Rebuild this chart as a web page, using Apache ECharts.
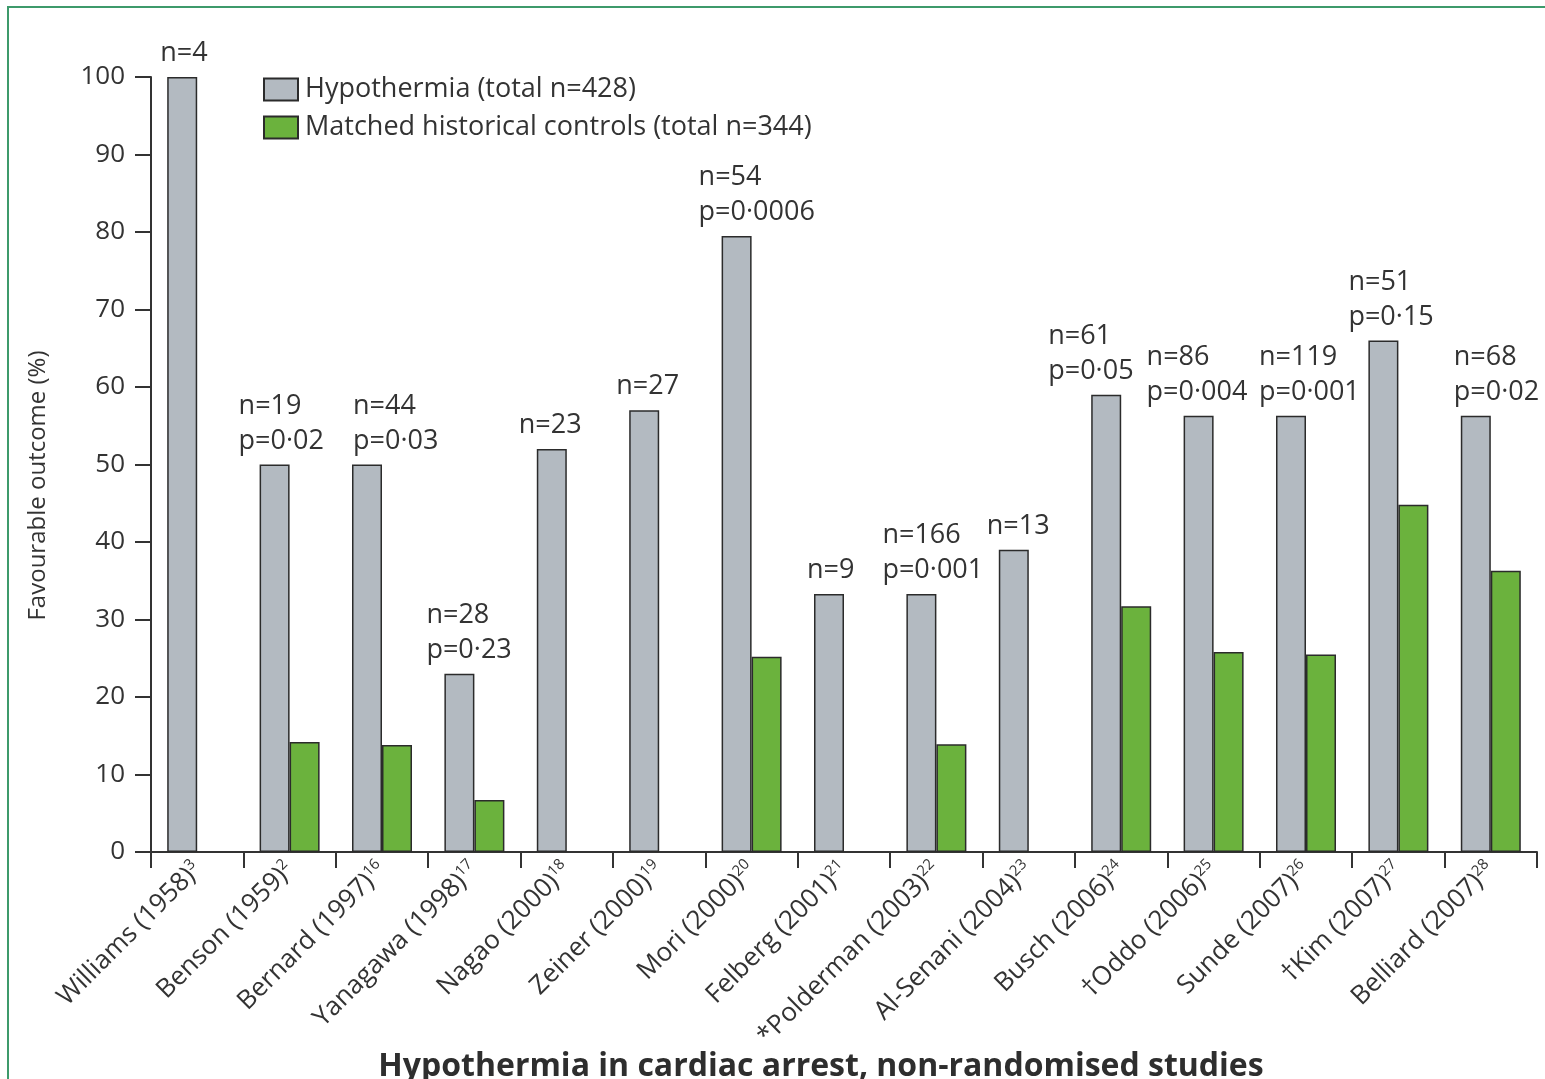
<!DOCTYPE html>
<html>
<head>
<meta charset="utf-8">
<script src="https://cdn.jsdelivr.net/npm/echarts@6/dist/echarts.min.js"></script>
<style>
  html, body { margin: 0; padding: 0; background: #fff; }
  #chart { width: 1545px; height: 1079px; }
</style>
</head>
<body>
<div id="chart"></div>
<script>
// Study names and their reference numbers (shown as superscripts)
const studies = [
  'Williams (1958)', 'Benson (1959)', 'Bernard (1997)', 'Yanagawa (1998)',
  'Nagao (2000)', 'Zeiner (2000)', 'Mori (2000)', 'Felberg (2001)',
  '*Polderman (2003)', 'Al-Senani (2004)', 'Busch (2006)', '\u2020Oddo (2006)',
  'Sunde (2007)', '\u2020Kim (2007)', 'Belliard (2007)'
];
const refs = ['3', '2', '16', '17', '18', '19', '20', '21', '22', '23', '24', '25', '26', '27', '28'];

// Favourable outcome (%)
const hypothermia = [100, 50, 50, 23, 52, 57, 79.5, 33.3, 33.3, 39, 59, 56.3, 56.3, 66, 56.3];
const controls = [null, 14.2, 13.8, 6.7, null, null, 25.2, null, 13.9, null, 31.7, 25.8, 25.5, 44.8, 36.3];

// Group annotations
const sampleSizes = ['n=4', 'n=19', 'n=44', 'n=28', 'n=23', 'n=27', 'n=54', 'n=9', 'n=166', 'n=13', 'n=61', 'n=86', 'n=119', 'n=51', 'n=68'];
const pValues = ['', 'p=0\u00b702', 'p=0\u00b703', 'p=0\u00b723', '', '', 'p=0\u00b70006', '', 'p=0\u00b7001', '', 'p=0\u00b705', 'p=0\u00b7004', 'p=0\u00b7001', 'p=0\u00b715', 'p=0\u00b702'];

// Horizontal nudge of each annotation relative to its grey bar centre (layout only)
const noteShift = [-22, -36, -14, -33, -33, -28, -38, -22, -39, -27, -58, -52, -32, -35, -22];

const FONT = '"Open Sans", Lato, sans-serif';
const INK = '#333333';

const chart = echarts.init(document.getElementById('chart'), null, { renderer: 'canvas' });

const greyData = hypothermia.map((v, i) => ({
  value: v,
  label: {
    offset: [noteShift[i], 0],
    formatter: pValues[i] ? sampleSizes[i] + '\n' + pValues[i] : sampleSizes[i]
  }
}));

chart.setOption({
  backgroundColor: '#ffffff',
  animation: false,
  title: {
    text: 'Hypothermia in cardiac arrest, non-randomised studies',
    left: 816,
    textAlign: 'center',
    top: 1046,
    textStyle: { fontFamily: FONT, fontSize: 32, fontWeight: 'bold', color: '#2e2e2e' }
  },
  legend: {
    orient: 'vertical',
    left: 258,
    top: 71,
    itemWidth: 34,
    itemHeight: 22,
    itemGap: 11,
    icon: 'rect',
    textStyle: { fontFamily: FONT, fontSize: 27, color: INK, padding: [0, 0, 0, 2] },
    data: ['Hypothermia (total n=428)', 'Matched historical controls (total n=344)']
  },
  grid: { left: 151, right: 8, top: 77, bottom: 227, containLabel: false },
  xAxis: {
    type: 'category',
    data: studies,
    axisLine: { lineStyle: { color: INK, width: 2 } },
    axisTick: { show: true, length: 16, lineStyle: { color: INK, width: 2 } },
    axisLabel: {
      interval: 0,
      rotate: 45,
      margin: 14,
      fontFamily: FONT,
      fontSize: 26,
      color: INK,
      formatter: (name, idx) => '{n|' + name + '}{s|' + refs[idx] + '}',
      rich: {
        n: { fontFamily: FONT, fontSize: 26, color: INK },
        s: { fontFamily: FONT, fontSize: 15, color: INK, verticalAlign: 'top', padding: [0, 0, 12, 0] }
      }
    }
  },
  yAxis: {
    type: 'value',
    min: 0,
    max: 100,
    interval: 10,
    name: 'Favourable outcome (%)',
    nameLocation: 'middle',
    nameGap: 101,
    nameTextStyle: { fontFamily: FONT, fontSize: 24, color: INK, padding: [0, 42, 0, 0] },
    axisLine: { show: true, lineStyle: { color: INK, width: 2 } },
    axisTick: { show: true, length: 16, lineStyle: { color: INK, width: 2 } },
    axisLabel: { margin: 26, fontFamily: FONT, fontSize: 26, color: INK },
    splitLine: { show: false }
  },
  series: [
    {
      name: 'Hypothermia (total n=428)',
      type: 'bar',
      data: greyData,
      barWidth: 30,
      barGap: '0%',
      itemStyle: { color: '#b3bac1', borderColor: '#2b2b2b', borderWidth: 1.5 },
      label: {
        show: true,
        position: 'top',
        distance: 6,
        align: 'left',
        fontFamily: FONT,
        fontSize: 27,
        lineHeight: 35,
        color: INK
      }
    },
    {
      name: 'Matched historical controls (total n=344)',
      type: 'bar',
      data: controls,
      barWidth: 30,
      barGap: '0%',
      itemStyle: { color: '#6bb23d', borderColor: '#2b2b2b', borderWidth: 1.5 }
    }
  ],
  graphic: [
    {
      type: 'polyline',
      silent: true,
      shape: { points: [[8, 1079], [8, 7], [1545, 7]] },
      style: { stroke: '#3d9a6b', lineWidth: 2, fill: null }
    }
  ]
});
</script>
</body>
</html>
